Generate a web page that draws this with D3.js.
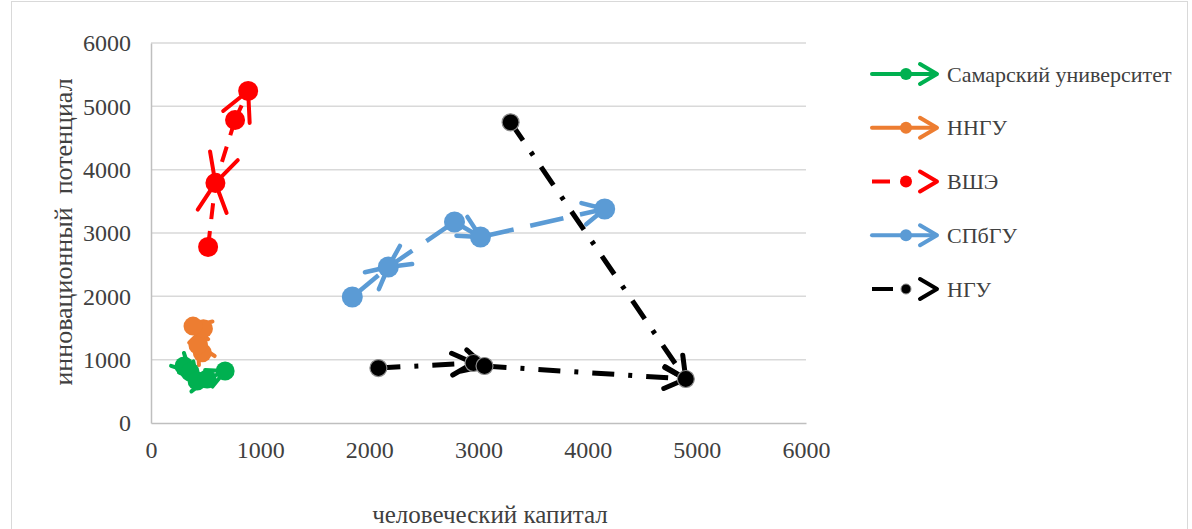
<!DOCTYPE html>
<html>
<head>
<meta charset="utf-8">
<script src="https://cdn.jsdelivr.net/npm/d3@7"></script>
<style>
  body { margin: 0; background: #fff; }
  svg text { font-family: "Liberation Serif", "Times New Roman", serif; fill: #404040; }
</style>
</head>
<body>
<div id="chart"></div>
<script>
// data: x = человеческий капитал, y = инновационный потенциал
var seriesNames = ["Самарский университет", "ННГУ", "ВШЭ", "СПбГУ", "НГУ"];

var samaraX = [303, 358, 422, 514, 679];
var samaraY = [900, 805, 663, 695, 821];
var samaraPaths = [[0, 1, 2, 3, 4]];

var nngyX = [470, 430, 480, 385];
var nngyY = [1110, 1230, 1490, 1530];
var nngyPaths = [[0, 1, 2, 3]];

var hseX = [523, 590, 770, 890];
var hseY = [2780, 3790, 4785, 5243];
var hsePaths = [[0, 1], [2, 1], [2, 3]];

var spbguX = [1844, 2174, 2780, 3018, 4156];
var spbguY = [1990, 2463, 3174, 2937, 3379];
var spbguPaths = [[0, 1], [2, 1], [2, 3, 4]];

var nguX = [2083, 2954, 3055, 4899, 3294];
var nguY = [868, 947, 900, 695, 4748];
var nguPaths = [[0, 1, 2, 3], [4, 3]];

var tickValues = [0, 1000, 2000, 3000, 4000, 5000, 6000];

// look of every series
var styles = [
  {color: "#00B050", dash: null, legendDash: false, width: 4, r: 9.5, arrow: 20, stroke: "none"},
  {color: "#ED7D31", dash: null, legendDash: false, width: 4, r: 9.5, arrow: 20, stroke: "none"},
  {color: "#FF0000", dash: "16,12", legendDash: true, width: 4, r: 10, arrow: 32, stroke: "none"},
  {color: "#5B9BD5", dash: "34,17", legendDash: false, width: 4.5, r: 10.5, arrow: 24, stroke: "none"},
  {color: "#000000", dash: "22,14,4,14", legendDash: true, width: 5, r: 8.5, arrow: 24, stroke: "#8c8c8c"}
];

var allX = [samaraX, nngyX, hseX, spbguX, nguX];
var allY = [samaraY, nngyY, hseY, spbguY, nguY];
var allPaths = [samaraPaths, nngyPaths, hsePaths, spbguPaths, nguPaths];

var series = seriesNames.map(function (name, i) {
  return {
    name: name,
    style: styles[i],
    points: allX[i].map(function (x, j) { return {x: x, y: allY[i][j]}; }),
    paths: allPaths[i]
  };
});

var width = 1192, height = 529;

var svg = d3.select("#chart")
  .append("svg")
  .attr("width", width)
  .attr("height", height);

// outer chart frame
svg.append("rect")
  .attr("x", 11.5).attr("y", 1.5)
  .attr("width", 1176).attr("height", 560)
  .attr("fill", "none")
  .attr("stroke", "#d9d9d9")
  .attr("stroke-width", 1);

var x = d3.scaleLinear().domain([0, 6000]).range([151, 806]);
var y = d3.scaleLinear().domain([0, 6000]).range([423, 43]);

// grid
svg.append("g")
  .selectAll("line")
  .data(tickValues.slice(1))
  .join("line")
  .attr("x1", x(0)).attr("x2", x(6000))
  .attr("y1", function (d) { return y(d); })
  .attr("y2", function (d) { return y(d); })
  .attr("stroke", "#d9d9d9")
  .attr("stroke-width", 1.5);

// axes
var xAxis = svg.append("g")
  .attr("transform", "translate(0," + y(0) + ")")
  .call(d3.axisBottom(x).tickValues(tickValues).tickSize(0).tickPadding(18).tickFormat(d3.format("d")));
var yAxis = svg.append("g")
  .attr("transform", "translate(" + x(0) + ",0)")
  .call(d3.axisLeft(y).tickValues(tickValues).tickSize(0).tickPadding(20).tickFormat(d3.format("d")));

[xAxis, yAxis].forEach(function (ax) {
  ax.select(".domain").attr("stroke", "#bfbfbf").attr("stroke-width", 1.5);
  ax.selectAll("text")
    .attr("font-family", "Liberation Serif")
    .attr("font-size", 24)
    .attr("fill", "#404040");
});

// axis titles
svg.append("text")
  .attr("x", 490).attr("y", 523)
  .attr("text-anchor", "middle")
  .attr("font-size", 25)
  .text("человеческий капитал");

svg.append("text")
  .attr("transform", "translate(72,232) rotate(-90)")
  .attr("text-anchor", "middle")
  .attr("font-size", 26)
  .attr("xml:space", "preserve")
  .style("white-space", "pre")
  .text("инновационный  потенциал");

// line segments, arrow heads, markers
function arrowHead(g, x1, y1, x2, y2, st) {
  var a = Math.atan2(y1 - y2, x1 - x2);
  var spread = 27 * Math.PI / 180;
  var L = st.arrow;
  var pts = [
    [x2 + L * Math.cos(a + spread), y2 + L * Math.sin(a + spread)],
    [x2, y2],
    [x2 + L * Math.cos(a - spread), y2 + L * Math.sin(a - spread)]
  ];
  g.append("path")
    .attr("d", d3.line()(pts))
    .attr("fill", "none")
    .attr("stroke", st.color)
    .attr("stroke-width", st.width)
    .attr("stroke-linecap", "round")
    .attr("stroke-linejoin", "round");
}

series.forEach(function (s) {
  var g = svg.append("g");
  var st = s.style;
  s.paths.forEach(function (p) {
    for (var k = 0; k < p.length - 1; k++) {
      var a = s.points[p[k]], b = s.points[p[k + 1]];
      var x1 = x(a.x), y1 = y(a.y), x2 = x(b.x), y2 = y(b.y);
      g.append("line")
        .attr("x1", x1).attr("y1", y1)
        .attr("x2", x2).attr("y2", y2)
        .attr("stroke", st.color)
        .attr("stroke-width", st.width)
        .attr("stroke-dasharray", st.dash)
        .attr("stroke-linecap", st.dash ? "butt" : "round");
      arrowHead(g, x1, y1, x2, y2, st);
    }
  });
});

series.forEach(function (s) {
  svg.append("g")
    .selectAll("circle")
    .data(s.points)
    .join("circle")
    .attr("cx", function (d) { return x(d.x); })
    .attr("cy", function (d) { return y(d.y); })
    .attr("r", s.style.r)
    .attr("fill", s.style.color)
    .attr("stroke", s.style.stroke)
    .attr("stroke-width", 1.2);
});

// legend
var legend = svg.append("g");
var legendY = d3.scalePoint().domain(seriesNames).range([74, 289]);

series.forEach(function (s, i) {
  var st = s.style;
  var ly = legendY(s.name);
  var item = legend.append("g");
  if (st.legendDash) {
    item.append("line")
      .attr("x1", 872).attr("x2", i === 4 ? 893 : 890)
      .attr("y1", ly).attr("y2", ly)
      .attr("stroke", st.color).attr("stroke-width", 4);
  } else {
    item.append("line")
      .attr("x1", 872).attr("x2", 935)
      .attr("y1", ly).attr("y2", ly)
      .attr("stroke", st.color).attr("stroke-width", 4)
      .attr("stroke-linecap", "round");
  }
  item.append("path")
    .attr("d", d3.line()([[920, ly - 10], [937, ly], [920, ly + 10]]))
    .attr("fill", "none")
    .attr("stroke", st.color)
    .attr("stroke-width", 4)
    .attr("stroke-linecap", "round")
    .attr("stroke-linejoin", "round");
  item.append("circle")
    .attr("cx", 906).attr("cy", ly)
    .attr("r", i === 4 ? 5 : 6)
    .attr("fill", st.color)
    .attr("stroke", st.stroke)
    .attr("stroke-width", 1);
  item.append("text")
    .attr("x", 947).attr("y", ly)
    .attr("dy", "0.35em")
    .attr("font-size", 22)
    .text(s.name);
});
</script>
</body>
</html>
